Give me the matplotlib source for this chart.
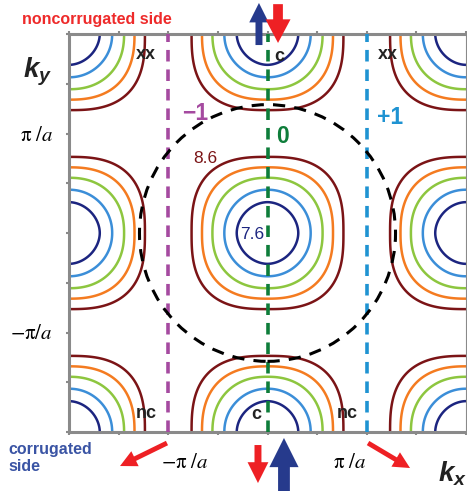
import numpy as np
import matplotlib
matplotlib.use('Agg')
import matplotlib.pyplot as plt
from matplotlib.patches import Circle

# contour energies (only 7.6 and 8.6 are labelled) and pocket shape
energies = [7.6, 7.85, 8.1, 8.35, 8.6]
radii = [0.31, 0.435, 0.555, 0.66, 0.765]      # half width of each pocket, units of pi/a
squareness = [1.9, 2.05, 2.25, 2.45, 2.75]     # superellipse exponent of each contour
level_colors = ['#1c2580', '#3b8ed8', '#8dc63f', '#f47b20', '#7b1416']

circle_radius = 1.29                            # units of pi/a
cut_positions = [-1, 0, 1]
cut_labels = ['\u22121', '0', '+1']
cut_colors = ['#a54aa0', '#0e7d3a', '#1f93d2']
tick_pos = [-2, -1.5, -1, -0.5, 0, 0.5, 1, 1.5, 2]

plt.rcParams['mathtext.fontset'] = 'custom'
plt.rcParams['mathtext.it'] = 'Liberation Sans:italic:bold'
plt.rcParams['mathtext.rm'] = 'Liberation Sans:bold'

fig = plt.figure(figsize=(4.67, 4.91), dpi=100)
ax = fig.add_axes([69 / 467, 59 / 491, 397 / 467, 398 / 491])

# periodic pockets centred on the reciprocal lattice (period 2pi/a)
k = np.linspace(-2, 2, 801)
KX, KY = np.meshgrid(k, k)
dx = np.abs((KX + 1) % 2 - 1)
dy = np.abs((KY + 1) % 2 - 1)
rho = (dx ** 2.4 + dy ** 2.4) ** (1 / 2.4)
p = np.interp(rho, radii, squareness)
field = (dx ** p + dy ** p) ** (1 / p)
ax.contour(KX, KY, field, levels=radii, colors=level_colors, linewidths=1.8, zorder=2)

for xc, lab, col, lx, ly in zip(cut_positions, cut_labels, cut_colors,
                                [-0.73, 0.156, 1.234], [1.196, 0.965, 1.156]):
    ax.axvline(xc, color=col, lw=2.6, ls=(0, (3.2, 2.2)), zorder=3)
    ax.text(lx, ly, lab, color=col, fontsize=16.5, fontweight='bold',
            family='Liberation Sans', ha='center', va='center')

ax.add_patch(Circle((0, 0), circle_radius, fill=False, ec='black', lw=2.2,
                    ls=(0, (4, 3)), zorder=3))

ax.set_xlim(-2, 2)
ax.set_ylim(-2, 2)
ax.set_xticks(tick_pos)
ax.set_yticks(tick_pos)
ax.set_xticklabels([])
ax.set_yticklabels([])
ax.tick_params(direction='out', length=2.5, width=1.5, color='#8a8a8a',
               top=True, bottom=True, left=True, right=False)
for side in ['left', 'top', 'bottom']:
    ax.spines[side].set_color('#8a8a8a')
    ax.spines[side].set_linewidth(2.2)
ax.spines['right'].set_color('#8a8a8a')
ax.spines['right'].set_linewidth(0.8)

lab_kw = dict(fontsize=13, fontweight='bold', family='Liberation Sans',
              ha='center', va='center', color='#222222')
for x, y, s in [(-1.224, 1.789, 'xx'), (1.214, 1.789, 'xx'), (0.116, 1.769, 'c'),
                (-0.116, -1.829, 'c'), (-1.224, -1.819, 'nc'), (0.801, -1.819, 'nc')]:
    ax.text(x, y, s, **lab_kw)

ax.text(-0.63, 0.744, '8.6', color=level_colors[4], fontsize=12.5,
        family='Liberation Sans', ha='center', va='center')
ax.text(-0.156, -0.02, '7.6', color=level_colors[0], fontsize=12.5,
        family='Liberation Sans', ha='center', va='center')

# labels outside the frame
out = dict(clip_on=False, ha='center', va='center')
ax.text(-2.474, 2.141, 'noncorrugated side', color='#ee2a2a', fontsize=11.5,
        fontweight='bold', family='Liberation Sans', clip_on=False, ha='left', va='center')
ax.text(-2.615, -2.262, 'corrugated\nside', color='#3a54a4', fontsize=11.5,
        fontweight='bold', family='Liberation Sans', linespacing=1.15,
        clip_on=False, ha='left', va='center')
ax.text(-2.312, 1.618, r'$k_y$', fontsize=20, color='#222222', **out)
ax.text(1.859, -2.422, r'$k_x$', fontsize=20, color='#222222', **out)
ax.text(-2.322, 0.985, r'$\mathrm{\pi}\ /a$', fontsize=15, math_fontfamily='stix', **out)
ax.text(-2.383, -1.005, r'$-\mathrm{\pi}/a$', fontsize=15, math_fontfamily='stix', **out)
ax.text(-0.831, -2.30, r'$-\mathrm{\pi}\ /a$', fontsize=15, math_fontfamily='stix', **out)
ax.text(0.831, -2.30, r'$\mathrm{\pi}\ /a$', fontsize=15, math_fontfamily='stix', **out)

# spin arrows
arrows = [((-0.086, 1.889), (-0.086, 2.312), '#263a8c', 5, 14, 14),
          ((0.106, 2.30), (0.106, 1.91), '#ee2024', 7, 18, 17),
          ((-0.096, -2.131), (-0.096, -2.513), '#ee2024', 5, 15, 15),
          ((0.166, -2.593), (0.166, -2.06), '#263a8c', 8.5, 21, 21),
          ((-1.013, -2.111), (-1.486, -2.342), '#ee2024', 3.5, 12, 12),
          ((1.013, -2.111), (1.436, -2.362), '#ee2024', 3.5, 12, 12)]
for tail, tip, col, tw, hw, hl in arrows:
    ax.annotate('', xy=tip, xytext=tail, annotation_clip=False,
                arrowprops=dict(arrowstyle=f'simple,head_length={hl},head_width={hw},tail_width={tw}',
                                mutation_scale=1, fc=col, ec='none',
                                shrinkA=0, shrinkB=0), zorder=5)

fig.savefig('out.png', dpi=100)
